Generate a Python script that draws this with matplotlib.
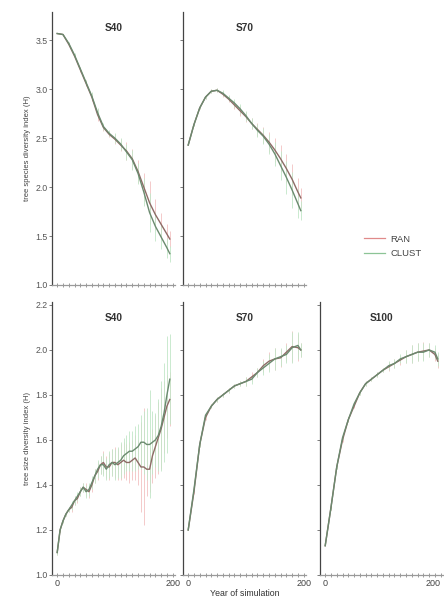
import matplotlib
matplotlib.use("Agg")
import matplotlib.pyplot as plt
from matplotlib.lines import Line2D
from matplotlib.ticker import MultipleLocator

plt.rcParams['font.family'] = ['Liberation Sans', 'DejaVu Sans']

# ---- data -------------------------------------------------------------
years10 = [0, 10, 20, 30, 40, 50, 60, 70, 80, 90, 100, 110, 120, 130, 140,
           150, 160, 170, 180, 190, 195]
years5 = [0, 5, 10, 15, 20, 25, 30, 35, 40, 45, 50, 55, 60, 65, 70, 75, 80,
          85, 90, 95, 100, 105, 110, 115, 120, 125, 130, 135, 140, 145, 150,
          155, 160, 165, 170, 175, 180, 185, 190, 195]

# species diversity, S40
sp40_ran = [3.57, 3.56, 3.46, 3.34, 3.20, 3.06, 2.92, 2.74, 2.61, 2.54, 2.49,
            2.43, 2.37, 2.29, 2.16, 2.00, 1.84, 1.72, 1.62, 1.52, 1.47]
sp40_ran_sd = [0.0, 0.0, 0.01, 0.02, 0.02, 0.03, 0.04, 0.06, 0.04, 0.03, 0.05,
               0.06, 0.09, 0.10, 0.12, 0.14, 0.22, 0.16, 0.12, 0.10, 0.08]
sp40_clu = [3.57, 3.56, 3.47, 3.35, 3.21, 3.07, 2.93, 2.76, 2.62, 2.55, 2.50,
            2.44, 2.36, 2.28, 2.14, 1.95, 1.74, 1.60, 1.49, 1.38, 1.32]
sp40_clu_sd = [0.0, 0.0, 0.01, 0.02, 0.02, 0.03, 0.04, 0.05, 0.04, 0.03, 0.05,
               0.06, 0.08, 0.10, 0.11, 0.14, 0.20, 0.15, 0.12, 0.10, 0.08]

# species diversity, S70
sp70_ran = [2.43, 2.64, 2.81, 2.92, 2.98, 2.99, 2.95, 2.90, 2.84, 2.78, 2.72,
            2.65, 2.59, 2.53, 2.46, 2.38, 2.29, 2.19, 2.08, 1.95, 1.89]
sp70_ran_sd = [0.0, 0.01, 0.01, 0.02, 0.02, 0.02, 0.03, 0.03, 0.04, 0.05, 0.05,
               0.06, 0.07, 0.08, 0.10, 0.12, 0.14, 0.15, 0.16, 0.14, 0.10]
sp70_clu = [2.43, 2.64, 2.81, 2.92, 2.98, 2.99, 2.96, 2.91, 2.86, 2.80, 2.73,
            2.65, 2.58, 2.52, 2.44, 2.34, 2.22, 2.10, 1.97, 1.83, 1.76]
sp70_clu_sd = [0.0, 0.01, 0.01, 0.02, 0.02, 0.02, 0.03, 0.03, 0.04, 0.05, 0.05,
               0.06, 0.07, 0.08, 0.10, 0.12, 0.15, 0.17, 0.18, 0.15, 0.10]

# size diversity, S40
sz40_ran = [1.10, 1.20, 1.24, 1.27, 1.29, 1.30, 1.33, 1.34, 1.37, 1.39, 1.38,
            1.37, 1.40, 1.44, 1.46, 1.49, 1.50, 1.48, 1.48, 1.50, 1.50, 1.49,
            1.50, 1.51, 1.50, 1.50, 1.51, 1.52, 1.50, 1.48, 1.48, 1.47, 1.47,
            1.53, 1.57, 1.61, 1.65, 1.70, 1.75, 1.78]
sz40_ran_sd = [0.01, 0.01, 0.01, 0.01, 0.01, 0.02, 0.02, 0.02, 0.02, 0.02, 0.03,
               0.03, 0.03, 0.03, 0.04, 0.04, 0.05, 0.05, 0.06, 0.06, 0.07, 0.07,
               0.08, 0.08, 0.08, 0.09, 0.09, 0.10, 0.10, 0.20, 0.26, 0.12, 0.10,
               0.12, 0.14, 0.16, 0.18, 0.16, 0.14, 0.12]
sz40_clu = [1.10, 1.20, 1.24, 1.27, 1.29, 1.31, 1.33, 1.35, 1.37, 1.39, 1.37,
            1.38, 1.41, 1.44, 1.47, 1.49, 1.49, 1.47, 1.49, 1.50, 1.49, 1.50,
            1.51, 1.53, 1.54, 1.55, 1.55, 1.56, 1.57, 1.59, 1.59, 1.58, 1.58,
            1.59, 1.60, 1.62, 1.66, 1.72, 1.80, 1.87]
sz40_clu_sd = [0.01, 0.01, 0.01, 0.01, 0.01, 0.02, 0.02, 0.02, 0.02, 0.02, 0.03,
               0.03, 0.03, 0.03, 0.04, 0.04, 0.05, 0.05, 0.06, 0.06, 0.07, 0.07,
               0.08, 0.08, 0.08, 0.09, 0.09, 0.10, 0.10, 0.12, 0.14, 0.16, 0.24,
               0.14, 0.12, 0.16, 0.20, 0.22, 0.26, 0.20]

# size diversity, S70
sz70_ran = [1.20, 1.37, 1.58, 1.70, 1.75, 1.78, 1.80, 1.82, 1.84, 1.85, 1.86,
            1.88, 1.90, 1.93, 1.95, 1.96, 1.965, 1.99, 2.015, 2.01, 2.00]
sz70_ran_sd = [0.0, 0.01, 0.01, 0.01, 0.01, 0.01, 0.01, 0.01, 0.01, 0.01, 0.02,
               0.02, 0.02, 0.03, 0.04, 0.05, 0.04, 0.04, 0.07, 0.06, 0.03]
sz70_clu = [1.20, 1.38, 1.58, 1.71, 1.75, 1.78, 1.80, 1.82, 1.84, 1.85, 1.86,
            1.87, 1.90, 1.92, 1.94, 1.96, 1.97, 1.98, 2.01, 2.02, 2.00]
sz70_clu_sd = [0.0, 0.01, 0.01, 0.01, 0.01, 0.01, 0.01, 0.01, 0.01, 0.01, 0.02,
               0.02, 0.02, 0.03, 0.04, 0.05, 0.04, 0.04, 0.07, 0.06, 0.03]

# size diversity, S100
sz100_ran = [1.13, 1.30, 1.48, 1.60, 1.69, 1.75, 1.81, 1.85, 1.87, 1.89, 1.91,
             1.925, 1.94, 1.955, 1.97, 1.98, 1.99, 1.995, 2.00, 1.98, 1.95]
sz100_ran_sd = [0.0, 0.01, 0.01, 0.01, 0.01, 0.01, 0.01, 0.01, 0.01, 0.01, 0.01,
                0.02, 0.02, 0.02, 0.03, 0.04, 0.04, 0.04, 0.03, 0.03, 0.03]
sz100_clu = [1.13, 1.30, 1.48, 1.61, 1.69, 1.76, 1.81, 1.85, 1.87, 1.89, 1.91,
             1.93, 1.94, 1.96, 1.97, 1.98, 1.99, 1.99, 2.00, 1.99, 1.96]
sz100_clu_sd = [0.0, 0.01, 0.01, 0.01, 0.01, 0.01, 0.01, 0.01, 0.01, 0.01, 0.01,
                0.02, 0.02, 0.02, 0.03, 0.04, 0.04, 0.04, 0.03, 0.03, 0.03]

labels = ["RAN", "CLUST"]
ran_line, clu_line = "#8e6b66", "#6b8a6f"
ran_err, clu_err = "#f2c2c2", "#c2e6c8"
ran_leg, clu_leg = "#e08a8a", "#8cc496"

# ---- figure -------------------------------------------------------------
W, H = 444, 603
fig = plt.figure(figsize=(W / 100, H / 100), dpi=100)


def make_axes(x0, x1, ytop, ybot):
    return fig.add_axes([x0 / W, 1 - ybot / H, (x1 - x0) / W, (ybot - ytop) / H])


def style(ax, ylim, ystep, show_ylabels, show_xlabels):
    ax.set_xlim(-9, 204)
    ax.set_ylim(*ylim)
    for s in ("top", "right"):
        ax.spines[s].set_visible(False)
    ax.spines["left"].set_color("#444444")
    ax.spines["left"].set_linewidth(0.9)
    ax.spines["bottom"].set_color("#9a9a9a")
    ax.spines["bottom"].set_linewidth(0.9)
    ax.yaxis.set_major_locator(MultipleLocator(ystep))
    ax.xaxis.set_major_locator(MultipleLocator(200))
    ax.xaxis.set_minor_locator(MultipleLocator(10))
    ax.tick_params(axis="y", direction="out", length=2, width=0.6,
                   color="#666666", labelsize=6.3, labelcolor="#555555", pad=1)
    ax.tick_params(axis="x", which="both", direction="inout", length=2.5,
                   width=0.6, color="#8a8a8a", labelsize=6.5,
                   labelcolor="#444444", pad=1.5)
    if not show_ylabels:
        ax.tick_params(axis="y", labelleft=False)
    if not show_xlabels:
        ax.tick_params(axis="x", labelbottom=False)


def draw(ax, x, ran, ran_sd, clu, clu_sd):
    ax.errorbar(x, ran, yerr=ran_sd, color=ran_line, ecolor=ran_err,
                elinewidth=0.6, lw=1.0, capsize=0, zorder=3)
    ax.errorbar(x, clu, yerr=clu_sd, color=clu_line, ecolor=clu_err,
                elinewidth=0.6, lw=1.0, capsize=0, zorder=3)


def title(ax, txt):
    ax.text(0.5, 0.96, txt, transform=ax.transAxes, ha="center", va="top",
            fontsize=7.3, fontweight="bold", color="#333333")


top_ylim = (1.0, 3.79)
bot_ylim = (1.0, 2.213)

ax1 = make_axes(52, 175, 12, 285)
style(ax1, top_ylim, 0.5, True, False)
draw(ax1, years10, sp40_ran, sp40_ran_sd, sp40_clu, sp40_clu_sd)
title(ax1, "S40")
ax1.set_ylabel("tree species diversity index (H)", fontsize=5.5,
               color="#444444", labelpad=3)

ax2 = make_axes(183, 306, 12, 285)
style(ax2, top_ylim, 0.5, False, False)
draw(ax2, years10, sp70_ran, sp70_ran_sd, sp70_clu, sp70_clu_sd)
title(ax2, "S70")

ax3 = make_axes(52, 175, 302, 575)
style(ax3, bot_ylim, 0.2, True, True)
draw(ax3, years5, sz40_ran, sz40_ran_sd, sz40_clu, sz40_clu_sd)
title(ax3, "S40")
ax3.set_ylabel("tree size diversity index (H)", fontsize=5.5,
               color="#444444", labelpad=3)

ax4 = make_axes(183, 306, 302, 575)
style(ax4, bot_ylim, 0.2, False, True)
draw(ax4, years10, sz70_ran, sz70_ran_sd, sz70_clu, sz70_clu_sd)
title(ax4, "S70")
ax4.set_xlabel("Year of simulation", fontsize=6.3, color="#333333", labelpad=1)

ax5 = make_axes(320, 443, 302, 575)
style(ax5, bot_ylim, 0.2, False, True)
draw(ax5, years10, sz100_ran, sz100_ran_sd, sz100_clu, sz100_clu_sd)
title(ax5, "S100")
# keep the right-hand "200" fully inside the canvas
ax5.set_xticks([0, 200], ["0", "200"])
ax5.get_xticklabels()[1].set_horizontalalignment("right")

handles = [Line2D([0], [0], color=ran_leg, lw=0.9),
           Line2D([0], [0], color=clu_leg, lw=0.9)]
fig.legend(handles, labels, loc="upper left",
           bbox_to_anchor=(360 / W, 1 - 231 / H), frameon=False, fontsize=6.8,
           handlelength=2.2, handletextpad=0.6, labelspacing=0.55,
           borderaxespad=0, labelcolor="#444444")

fig.savefig("out.png", dpi=100, facecolor="white")
